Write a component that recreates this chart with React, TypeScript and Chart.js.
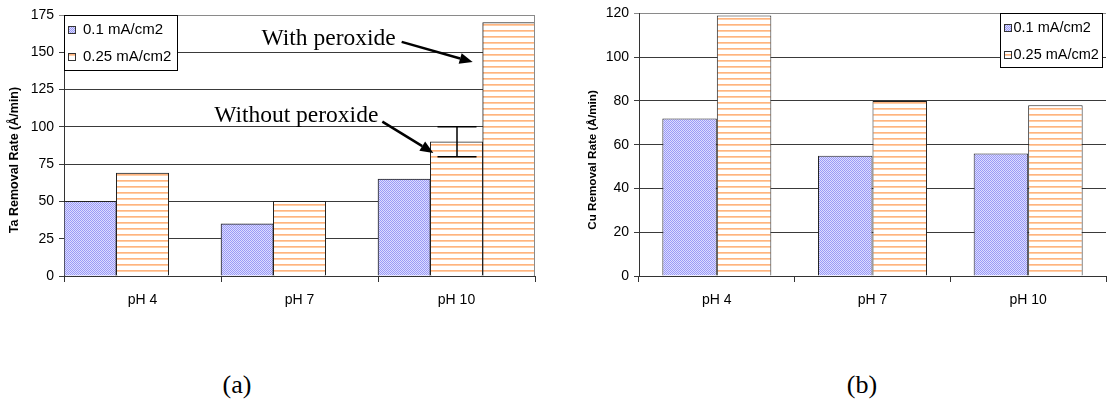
import React, { useEffect, useRef } from 'react';
import { Chart, registerables } from 'chart.js';

Chart.register(...registerables);

// ---- data ----
const categories = ['pH 4', 'pH 7', 'pH 10'];
const seriesNames = ['0.1 mA/cm2', '0.25 mA/cm2'];
const taLow = [50, 35, 65];
const taHigh = [69, 50, 90];
const taPeroxide = [null, null, 170];
const taHighErr = [null, null, 10];
const taTicks = [0, 175, 25];
const cuLow = [72, 55, 56];
const cuHigh = [119, 80, 78];
const cuTicks = [0, 120, 20];
const taTitle = 'Ta Removal Rate (Å/min)';
const cuTitle = 'Cu Removal Rate (Å/min)';
const annotWith = 'With peroxide';
const annotWithout = 'Without peroxide';
const panelLabels = ['(a)', '(b)'];

const SANS = "'Liberation Sans', Arial, sans-serif";
const SERIF = "'Liberation Serif', 'Times New Roman', serif";

function makeBlue(ctx: CanvasRenderingContext2D) {
  const c = document.createElement('canvas');
  c.width = 4; c.height = 4;
  const g = c.getContext('2d')!;
  g.fillStyle = '#dcdcff';
  g.fillRect(0, 0, 4, 4);
  g.fillStyle = '#9a9af6';
  for (let y = 0; y < 4; y++) for (let x = 0; x < 4; x++) if ((x + y) % 2 === 0) g.fillRect(x, y, 1, 1);
  return ctx.createPattern(c, 'repeat')!;
}

function makeOrange(ctx: CanvasRenderingContext2D) {
  const c = document.createElement('canvas');
  c.width = 4; c.height = 6;
  const g = c.getContext('2d')!;
  g.fillStyle = '#ffffff';
  g.fillRect(0, 0, 4, 6);
  g.fillStyle = '#ffb47f';
  g.fillRect(0, 0, 4, 1);
  g.fillStyle = '#ffcda6';
  g.fillRect(0, 1, 4, 1);
  return ctx.createPattern(c, 'repeat')!;
}

function drawLegend(
  ctx: CanvasRenderingContext2D,
  x: number, y: number, w: number, h: number,
  rows: { label: string; fill: any }[], textOff: number, fontSize: number
) {
  ctx.save();
  ctx.fillStyle = '#fff';
  ctx.fillRect(x, y, w, h);
  ctx.strokeStyle = '#000';
  ctx.lineWidth = 1;
  ctx.strokeRect(Math.round(x) + 0.5, Math.round(y) + 0.5, w, h);
  rows.forEach((r, i) => {
    const cy = Math.round(y + (h * (2 * i + 1)) / 4);
    ctx.fillStyle = r.fill;
    ctx.fillRect(x + 4, cy - 3, 7, 7);
    ctx.strokeStyle = '#333';
    ctx.strokeRect(Math.round(x + 4) + 0.5, cy - 3 + 0.5, 7, 7);
    ctx.fillStyle = '#000';
    ctx.font = `${fontSize}px ${SANS}`;
    ctx.textBaseline = 'middle';
    ctx.textAlign = 'left';
    ctx.fillText(r.label, x + textOff, cy + 1);
  });
  ctx.restore();
}

function drawAxisTitle(ctx: CanvasRenderingContext2D, text: string, x: number, y: number, size: number) {
  ctx.save();
  ctx.translate(x, y);
  ctx.rotate(-Math.PI / 2);
  ctx.font = `bold ${size}px ${SANS}`;
  ctx.fillStyle = '#000';
  ctx.textAlign = 'center';
  ctx.textBaseline = 'middle';
  ctx.fillText(text, 0, 0);
  ctx.restore();
}

function arrow(ctx: CanvasRenderingContext2D, x1: number, y1: number, x2: number, y2: number) {
  const ang = Math.atan2(y2 - y1, x2 - x1);
  const hl = 13, hw = 5.5;
  const bx = x2 - hl * Math.cos(ang), by = y2 - hl * Math.sin(ang);
  ctx.save();
  ctx.strokeStyle = '#000';
  ctx.fillStyle = '#000';
  ctx.lineWidth = 2.5;
  ctx.beginPath();
  ctx.moveTo(x1, y1);
  ctx.lineTo(bx, by);
  ctx.stroke();
  ctx.beginPath();
  ctx.moveTo(x2, y2);
  ctx.lineTo(bx + hw * Math.sin(ang), by - hw * Math.cos(ang));
  ctx.lineTo(bx - hw * Math.sin(ang), by + hw * Math.cos(ang));
  ctx.closePath();
  ctx.fill();
  ctx.restore();
}

const leftDecor = {
  id: 'leftDecor',
  afterDatasetsDraw(chart: any) {
    const { ctx, chartArea: a, scales } = chart;
    const y = scales.y;
    ctx.save();
    // plot right border
    ctx.strokeStyle = '#8a8a8a';
    ctx.lineWidth = 1;
    const rx = Math.round(a.right) - 0.5;
    ctx.beginPath();
    ctx.moveTo(rx, a.top);
    ctx.lineTo(rx, a.bottom);
    ctx.stroke();
    // error bars
    const m1 = chart.getDatasetMeta(1);
    ctx.strokeStyle = '#000';
    ctx.lineWidth = 1.5;
    taHighErr.forEach((e, i) => {
      if (e == null) return;
      const bar = m1.data[i];
      const v = taHigh[i];
      const x = Math.round(bar.x);
      const yt = y.getPixelForValue(v + e);
      const yb = y.getPixelForValue(v - e);
      const hw = 19.5;
      ctx.beginPath();
      ctx.moveTo(x, yt); ctx.lineTo(x, yb);
      ctx.moveTo(x - hw, yt); ctx.lineTo(x + hw, yt);
      ctx.moveTo(x - hw, yb); ctx.lineTo(x + hw, yb);
      ctx.stroke();
    });
    // annotations
    const pBar = chart.getDatasetMeta(2).data[2];
    const oBar = m1.data[2];
    const pLeft = pBar.x - pBar.width / 2;
    const oLeft = oBar.x - oBar.width / 2;
    ctx.font = `23.5px ${SERIF}`;
    ctx.fillStyle = '#000';
    ctx.textAlign = 'right';
    ctx.textBaseline = 'alphabetic';
    ctx.fillText(annotWith, pLeft - 87, y.getPixelForValue(155));
    ctx.fillText(annotWithout, oLeft - 52, y.getPixelForValue(103));
    ctx.restore();
    arrow(ctx, pLeft - 81, y.getPixelForValue(157), pLeft - 10, y.getPixelForValue(143.5));
    arrow(ctx, oLeft - 48, y.getPixelForValue(103.5), oLeft + 3, y.getPixelForValue(82.5));
  },
  afterDraw(chart: any) {
    const { ctx, chartArea: a } = chart;
    const ds = chart.data.datasets;
    drawLegend(ctx, a.left, a.top, 113, 55, [
      { label: ds[0].label, fill: ds[0].backgroundColor },
      { label: ds[1].label, fill: ds[1].backgroundColor },
    ], 19, 15);
    drawAxisTitle(ctx, taTitle, 15, 160, 12.5);
  },
};

const rightDecor = {
  id: 'rightDecor',
  afterDraw(chart: any) {
    const { ctx, chartArea: a } = chart;
    const ds = chart.data.datasets;
    drawLegend(ctx, a.right - 106, a.top, 102, 54, [
      { label: ds[0].label, fill: ds[0].backgroundColor },
      { label: ds[1].label, fill: ds[1].backgroundColor },
    ], 13.5, 14.5);
    drawAxisTitle(ctx, cuTitle, 33, 160, 11.7);
  },
};

function baseScales(ticks: number[], yWidth: number, topColor: string) {
  return {
    x: {
      grid: { drawOnChartArea: false, color: '#333', tickLength: 6, offset: true },
      border: { color: '#333' },
      ticks: { font: { family: SANS, size: 14 }, color: '#000', padding: 10 },
      afterFit: (s: any) => { s.height = 44; },
    },
    y: {
      min: ticks[0],
      max: ticks[1],
      ticks: { stepSize: ticks[2], font: { family: SANS, size: 14 }, color: '#000', padding: 5 },
      grid: {
        color: (c: any) => (c.tick && c.tick.value === ticks[1] ? topColor : '#3a3a3a'),
        tickLength: 5,
      },
      border: { color: '#333' },
      afterFit: (s: any) => { s.width = yWidth; },
    },
  };
}

export default function App() {
  const leftRef = useRef<HTMLCanvasElement>(null);
  const rightRef = useRef<HTMLCanvasElement>(null);

  useEffect(() => {
    const lc = leftRef.current!;
    const rc = rightRef.current!;
    const lctx = lc.getContext('2d')!;
    const rctx = rc.getContext('2d')!;
    const bL = makeBlue(lctx), oL = makeOrange(lctx);
    const bR = makeBlue(rctx), oR = makeOrange(rctx);

    const left = new Chart(lc, {
      type: 'bar',
      data: {
        labels: categories,
        datasets: [
          { label: seriesNames[0], data: taLow, backgroundColor: bL, borderColor: '#222', borderWidth: 1 },
          { label: seriesNames[1], data: taHigh, backgroundColor: oL, borderColor: '#222', borderWidth: 1 },
          { label: seriesNames[1] + ' (with peroxide)', data: taPeroxide as any, backgroundColor: oL, borderColor: '#222', borderWidth: 1 },
        ],
      },
      options: {
        responsive: false,
        animation: false,
        layout: { padding: { top: 15, right: 10, left: 0, bottom: 0 } },
        datasets: { bar: { categoryPercentage: 1, barPercentage: 1 } },
        plugins: { legend: { display: false }, tooltip: { enabled: false } },
        scales: baseScales(taTicks, 64, '#8a8a8a') as any,
      },
      plugins: [leftDecor],
    });

    const right = new Chart(rc, {
      type: 'bar',
      data: {
        labels: categories,
        datasets: [
          { label: seriesNames[0], data: cuLow, backgroundColor: bR, borderColor: '#222', borderWidth: 1 },
          { label: seriesNames[1], data: cuHigh, backgroundColor: oR, borderColor: '#222', borderWidth: 1 },
        ],
      },
      options: {
        responsive: false,
        animation: false,
        layout: { padding: { top: 12, right: 1, left: 0, bottom: 0 } },
        datasets: { bar: { categoryPercentage: 0.7, barPercentage: 1 } },
        plugins: { legend: { display: false }, tooltip: { enabled: false } },
        scales: baseScales(cuTicks, 79, '#8a8a8a') as any,
      },
      plugins: [rightDecor],
    });

    return () => {
      left.destroy();
      right.destroy();
    };
  }, []);

  const labelStyle: React.CSSProperties = {
    position: 'absolute',
    width: 100,
    textAlign: 'center',
    fontFamily: SERIF,
    fontSize: 26,
    lineHeight: '30px',
    top: 370,
    color: '#000',
  };

  return (
    <div style={{ position: 'absolute', left: 0, top: 0, width: 1107, height: 399, background: '#fff', overflow: 'hidden' }}>
      <canvas ref={leftRef} width={545} height={320} style={{ position: 'absolute', left: 0, top: 0, width: 545, height: 320 }} />
      <canvas ref={rightRef} width={547} height={320} style={{ position: 'absolute', left: 560, top: 0, width: 547, height: 320 }} />
      <div style={{ ...labelStyle, left: 187 }}>{panelLabels[0]}</div>
      <div style={{ ...labelStyle, left: 812 }}>{panelLabels[1]}</div>
    </div>
  );
}
